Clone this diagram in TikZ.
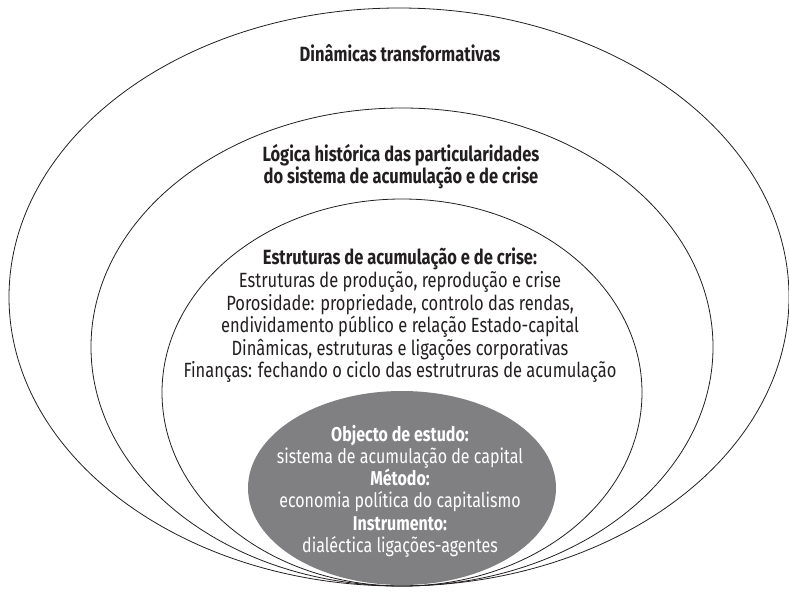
\documentclass[tikz,border=0pt]{standalone}
\usepackage{fontspec}
\setmainfont{Fira Sans}[FakeStretch=0.8]
\usetikzlibrary{shapes.geometric}
\definecolor{inkc}{RGB}{35,31,32}
\definecolor{grayfill}{RGB}{128,128,131}
\tikzset{
  ring/.style={draw=inkc, line width=0.8pt, ellipse, inner sep=0pt},
  core/.style={fill=grayfill, draw=none, ellipse, inner sep=0pt},
  lbl/.style={align=center, text=inkc, font=\fontsize{20.6}{22.6}\selectfont},
  corelbl/.style={align=center, text=white, font=\fontsize{20}{22.2}\selectfont}
}
\begin{document}
\begin{tikzpicture}[x=1pt, y=-1pt]
\useasboundingbox (0,0) rectangle (789,592);
\node[ring, minimum width=780pt, minimum height=578pt] (outer) at (399,297) {};
\node[ring, minimum width=622pt, minimum height=478pt] (second) at (402,347) {};
\node[ring, minimum width=480pt, minimum height=387pt] (third) at (402,392.5) {};
\node[core, minimum width=308pt, minimum height=194pt] (inner) at (402,488) {};
\node[lbl] (t1) at (400,53) {\textbf{Dinâmicas transformativas}};
\node[lbl] (t2) at (401,166.5) {\textbf{Lógica histórica das particularidades}\\\textbf{do sistema de acumulação e de crise}};
\node[lbl] (t3) at (400,315.5) {\textbf{Estruturas de acumulação e de crise:}\\
Estruturas de produção, reprodução e crise\\
Porosidade: propriedade, controlo das rendas,\\
endividamento público e relação Estado-capital\\
Dinâmicas, estruturas e ligações corporativas\\
Finanças: fechando o ciclo das estrutruras de acumulação};
\node[corelbl] (t4) at (400,491) {\textbf{Objecto de estudo:}\\
sistema de acumulação de capital\\
\textbf{Método:}\\
economia política do capitalismo\\
\textbf{Instrumento:}\\
dialéctica ligações-agentes};
\end{tikzpicture}
\end{document}
